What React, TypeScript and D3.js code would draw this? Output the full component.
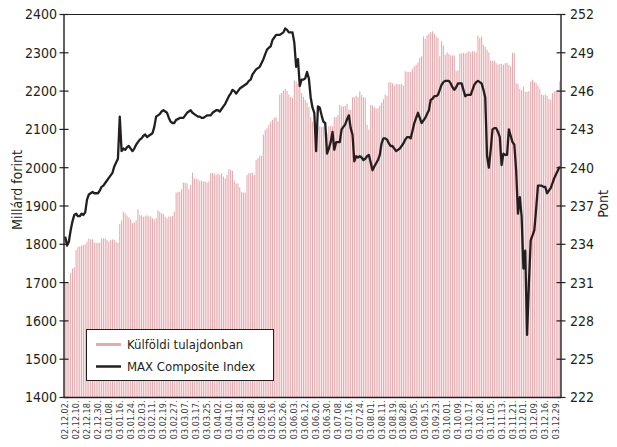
import React from "react";
import * as d3 from "d3";

const dateLabels = [
  "02.12.02.", "02.12.10.", "02.12.18.", "02.12.30.", "03.01.08.", "03.01.16.", "03.01.24.", "03.02.03.",
  "03.02.11.", "03.02.19.", "03.02.27.", "03.03.07.", "03.03.17.", "03.03.25.", "03.04.02.", "03.04.10.",
  "03.04.18.", "03.04.28.", "03.05.08.", "03.05.16.", "03.05.26.", "03.06.03.", "03.06.12.", "03.06.20.",
  "03.06.30.", "03.07.08.", "03.07.16.", "03.07.24.", "03.08.01.", "03.08.11.", "03.08.19.", "03.08.28.",
  "03.09.05.", "03.09.15.", "03.09.23.", "03.10.01.", "03.10.09.", "03.10.17.", "03.10.28.", "03.11.05.",
  "03.11.13.", "03.11.21.", "03.12.01.", "03.12.09.", "03.12.16.", "03.12.29.",
];
const labelEvery = 6;

// Foreign-owned (billion HUF), daily
const foreignOwned = [
  1698, 1698, 1700, 1725, 1737, 1740, 1785, 1793, 1795, 1797,
  1798, 1800, 1807, 1815, 1813, 1813, 1804, 1804, 1804, 1804,
  1815, 1815, 1815, 1811, 1807, 1811, 1813, 1811, 1806, 1804,
  1853, 1862, 1885, 1881, 1875, 1870, 1865, 1855, 1857, 1862,
  1891, 1876, 1876, 1872, 1873, 1876, 1873, 1873, 1868, 1865,
  1868, 1889, 1885, 1881, 1879, 1872, 1868, 1873, 1872, 1874,
  1885, 1935, 1937, 1937, 1944, 1961, 1961, 1959, 1944, 1955,
  1987, 1972, 1972, 1970, 1966, 1966, 1964, 1964, 1961, 1964,
  1986, 1986, 1985, 1981, 1985, 1981, 1985, 1977, 1972, 1981,
  1996, 1994, 1992, 1966, 1959, 1959, 1949, 1937, 1935, 1935,
  1981, 1986, 1986, 1987, 1981, 2020, 2025, 2031, 2031, 2086,
  2099, 2103, 2112, 2120, 2125, 2130, 2132, 2121, 2191, 2195,
  2201, 2206, 2200, 2191, 2185, 2182, 2228, 2225, 2219, 2212,
  2195, 2185, 2177, 2170, 2158, 2132, 2120, 2112, 2116, 2108,
  2108, 2106, 2108, 2095, 2090, 2108, 2110, 2108, 2132, 2132,
  2138, 2164, 2160, 2160, 2162, 2167, 2151, 2151, 2184, 2184,
  2188, 2185, 2199, 2190, 2184, 2182, 2112, 2099, 2164, 2162,
  2158, 2154, 2156, 2162, 2170, 2179, 2191, 2188, 2223, 2223,
  2220, 2214, 2219, 2218, 2218, 2218, 2214, 2252, 2250, 2250,
  2250, 2258, 2265, 2269, 2275, 2287, 2291, 2343, 2336, 2346,
  2350, 2354, 2356, 2350, 2343, 2339, 2291, 2330, 2319, 2295,
  2301, 2297, 2293, 2293, 2293, 2252, 2254, 2298, 2298, 2300,
  2298, 2301, 2304, 2301, 2304, 2304, 2301, 2345, 2339, 2343,
  2321, 2316, 2308, 2301, 2280, 2278, 2280, 2273, 2269, 2271,
  2271, 2269, 2273, 2274, 2268, 2265, 2300, 2300, 2221, 2219,
  2206, 2202, 2211, 2198, 2198, 2200, 2225, 2230, 2224, 2221,
  2214, 2206, 2191, 2189, 2191, 2188, 2180, 2177, 2195, 2199,
  2201, 2203, 2225,
];

// MAX Composite Index (points), daily
const maxIndex = [
  234.6, 233.9, 234.2, 235.1, 235.8, 236.3, 236.4, 236.2, 236.2, 236.4,
  236.3, 236.5, 237.5, 237.9, 238.0, 238.1, 238.0, 238.0, 238.0, 238.2,
  238.5, 238.6, 238.8, 239.0, 239.2, 239.4, 239.6, 240.1, 240.4, 240.7,
  244.0, 241.3, 241.5, 241.4, 241.6, 241.7, 241.5, 241.3, 241.5, 241.8,
  242.0, 242.2, 242.3, 242.5, 242.6, 242.4, 242.5, 242.6, 242.7, 243.2,
  244.0, 244.1, 244.2, 244.4, 244.5, 244.4, 244.3, 243.9, 243.6, 243.5,
  243.5, 243.75, 243.8, 243.9, 243.9, 243.9, 244.1, 244.3, 244.4, 244.5,
  244.3, 244.2, 244.1, 244.0, 244.0, 243.9, 243.9, 244.0, 244.1, 244.1,
  244.1, 244.3, 244.4, 244.5, 244.5, 244.4, 244.6, 244.8, 245.0, 245.3,
  245.6, 245.8, 246.1, 246.0, 245.8, 246.0, 246.2, 246.3, 246.4, 246.5,
  246.6, 246.8, 246.9, 247.3, 247.5, 247.7, 247.8, 247.9, 248.2, 248.5,
  248.9, 249.25, 249.4, 249.5, 250.0, 250.2, 250.4, 250.4, 250.4, 250.5,
  250.6, 250.9, 250.8, 250.6, 250.6, 250.6, 249.8, 247.9, 248.5, 246.4,
  246.9, 246.9, 247.0, 247.5, 247.0, 245.5, 244.7, 244.3, 241.3, 244.8,
  244.7, 244.1, 243.6, 243.5, 241.1, 241.5, 242.0, 242.8, 241.4, 242.0,
  242.0, 242.0, 243.0, 243.2, 243.4, 243.8, 244.1, 243.1, 242.6, 240.5,
  240.9, 240.8, 240.9, 240.8, 240.6, 240.7, 240.9, 241.0, 240.4, 239.8,
  240.1, 240.35, 240.6, 241.0, 241.9, 242.3, 242.3, 242.2, 241.9, 241.7,
  241.7, 241.5, 241.3, 241.4, 241.5, 241.7, 241.9, 242.2, 242.4, 242.4,
  242.3, 242.9, 243.5, 243.9, 244.3, 243.9, 243.5, 243.7, 243.9, 244.2,
  244.5, 245.3, 245.4, 245.6, 245.6, 245.7, 246.1, 246.5, 246.7, 246.8,
  246.8, 246.8, 246.6, 246.3, 246.1, 246.3, 246.6, 246.6, 246.6, 246.1,
  245.6, 245.7, 245.7, 245.7, 246.1, 246.5, 246.7, 246.8, 246.7, 246.6,
  246.1, 245.5, 240.9, 240.0, 241.4, 243.0, 243.1, 243.1, 242.8, 242.4,
  240.2, 241.1, 241.0, 241.0, 243.0, 242.5, 242.0, 241.8, 239.8, 236.4,
  237.7, 236.2, 232.1, 233.5, 226.9, 230.9, 234.3, 234.7, 235.1, 236.8,
  238.6, 238.6, 238.6, 238.5, 238.5, 238.0, 238.2, 238.4, 238.8, 239.2,
  239.5, 239.8, 240.1,
];

const leftTicks = [1400, 1500, 1600, 1700, 1800, 1900, 2000, 2100, 2200, 2300, 2400];
const rightTicks = [222, 225, 228, 231, 234, 237, 240, 243, 246, 249, 252];

const seriesNames = ["Külföldi tulajdonban", "MAX Composite Index"];
const leftTitle = "Millárd forint";
const rightTitle = "Pont";

const W = 617;
const H = 447;
const L = 64;
const R = 561;
const T = 14.5;
const B = 397.5;
const FONT = "'Liberation Sans Narrow', 'DejaVu Sans Condensed', 'Arial Narrow', sans-serif";
const BAR = "#e6a9ad";
const INK = "#231f20";

export default function App() {
  const n = foreignOwned.length;
  const x = d3.scaleBand<number>().domain(d3.range(n)).range([L + 0.5, R - 0.5]).paddingInner(0.42).paddingOuter(0.1);
  const yL = d3.scaleLinear().domain([1400, 2400]).range([B, T]);
  const yR = d3.scaleLinear().domain([222, 252]).range([B, T]);
  const cx = (i: number) => (x(i) as number) + x.bandwidth() / 2;
  const line = d3.line<number>().x((_, i) => cx(i)).y((d) => yR(d)).curve(d3.curveLinear);

  return (
    <svg width={W} height={H} style={{ position: "absolute", left: 0, top: 0, background: "#fff" }}>
      <rect x={0} y={0} width={W} height={H} fill="#fff" />
      <g>
        {foreignOwned.map((v, i) => (
          <rect key={i} x={x(i)} y={yL(v)} width={x.bandwidth()} height={B - yL(v)} fill={BAR} />
        ))}
      </g>
      <path d={line(maxIndex) || ""} fill="none" stroke={INK} strokeWidth={2.3} strokeLinejoin="round" />

      {/* frame */}
      <line x1={L} x2={R} y1={T} y2={T} stroke={INK} strokeWidth={1.2} />
      <line x1={L} x2={R} y1={B} y2={B} stroke={INK} strokeWidth={1.4} />
      <line x1={L} x2={L} y1={T} y2={B} stroke={INK} strokeWidth={1.4} />
      <line x1={R} x2={R} y1={T} y2={B} stroke={INK} strokeWidth={1.4} />

      {leftTicks.map((t) => (
        <g key={"l" + t}>
          <line x1={L - 4.5} x2={L + 4.5} y1={yL(t)} y2={yL(t)} stroke={INK} strokeWidth={1.2} />
          <text x={L - 7} y={yL(t)} dy="0.35em" textAnchor="end" fontFamily={FONT} fontSize={14} fill={INK}>
            {t}
          </text>
        </g>
      ))}
      {rightTicks.map((t) => (
        <g key={"r" + t}>
          <line x1={R - 4.5} x2={R + 4.5} y1={yR(t)} y2={yR(t)} stroke={INK} strokeWidth={1.2} />
          <text x={R + 9} y={yR(t)} dy="0.35em" textAnchor="start" fontFamily={FONT} fontSize={14} fill={INK}>
            {t}
          </text>
        </g>
      ))}

      {dateLabels.map((d, k) => {
        const px = cx(k * labelEvery);
        return (
          <text
            key={d}
            transform={`translate(${px + 3},${B + 3}) rotate(-90)`}
            textAnchor="end"
            fontFamily={FONT}
            fontSize={9}
            fill="#3a3a3a"
          >
            {d}
          </text>
        );
      })}

      <text transform={`translate(22,190) rotate(-90)`} textAnchor="middle" fontFamily={FONT} fontSize={14} fill={INK}>
        {leftTitle}
      </text>
      <text transform={`translate(608,204) rotate(-90)`} textAnchor="middle" fontFamily={FONT} fontSize={14} fill={INK}>
        {rightTitle}
      </text>

      {/* legend */}
      <rect x={86.5} y={329.5} width={187} height={51} fill="#fff" stroke={INK} strokeWidth={1} />
      <line x1={96} x2={121} y1={344.5} y2={344.5} stroke={BAR} strokeWidth={3} />
      <text x={127} y={344.5} dy="0.35em" fontFamily={FONT} fontSize={13} fill={INK}>
        {seriesNames[0]}
      </text>
      <line x1={96} x2={121} y1={366.5} y2={366.5} stroke={INK} strokeWidth={2.5} />
      <text x={127} y={366.5} dy="0.35em" fontFamily={FONT} fontSize={13} fill={INK}>
        {seriesNames[1]}
      </text>
    </svg>
  );
}
